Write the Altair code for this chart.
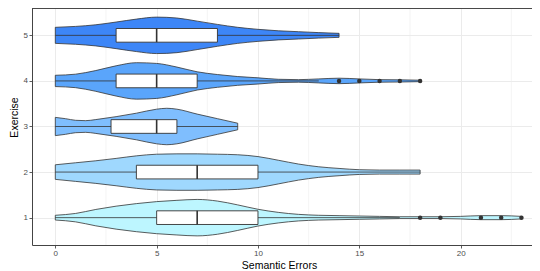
import altair as alt
import pandas as pd

exercises = [1, 2, 3, 4, 5]
fill_colors = ["#bdf6ff", "#9fd8fe", "#7fbefe", "#5aa5fb", "#3d86f7"]

# violin outlines: error values and relative density (max = 1)
v1_x = list(range(0, 24))
v1_d = [0.13, 0.23, 0.45, 0.63, 0.77, 0.88, 0.95, 1.0, 0.91, 0.70, 0.46, 0.29,
        0.18, 0.13, 0.11, 0.09, 0.07, 0.05, 0.05, 0.05, 0.07, 0.11, 0.11, 0.07]
v2_x = list(range(0, 19))
v2_d = [0.40, 0.51, 0.62, 0.75, 0.89, 0.98, 1.0, 1.0, 0.98, 0.95, 0.85, 0.65,
        0.44, 0.29, 0.20, 0.13, 0.11, 0.11, 0.11]
v3_x = [0, 0.5, 1, 1.5, 2, 2.5, 3, 4, 5, 5.5, 6, 7, 8, 9]
v3_d = [0.50, 0.43, 0.34, 0.32, 0.38, 0.46, 0.54, 0.73, 0.95, 1.0, 0.95, 0.68, 0.43, 0.18]
v4_x = list(range(0, 19))
v4_d = [0.31, 0.37, 0.57, 0.83, 1.0, 0.96, 0.76, 0.50, 0.35, 0.24, 0.17, 0.09,
        0.07, 0.11, 0.15, 0.11, 0.07, 0.06, 0.04]
v5_x = list(range(0, 15))
v5_d = [0.44, 0.49, 0.58, 0.73, 0.89, 1.0, 0.95, 0.78, 0.60, 0.44, 0.33, 0.25,
        0.20, 0.15, 0.11]

# boxplot statistics
q1 = [5, 4, 2.75, 3, 3]
med = [7, 7, 5, 5, 5]
q3 = [10, 10, 6, 7, 8]
w_lo = [0, 0, 0, 0, 0]
w_hi = [17, 18, 9, 13, 14]

# outliers
out_ex = [1, 1, 1, 1, 1, 4, 4, 4, 4, 4]
out_val = [18, 19, 21, 22, 23, 14, 15, 16, 17, 18]

x_ticks = [0, 5, 10, 15, 20]
x_minor = [2.5, 7.5, 12.5, 17.5, 22.5]

rows = []
for ex, xs, ds in zip(exercises, [v1_x, v2_x, v3_x, v4_x, v5_x],
                      [v1_d, v2_d, v3_d, v4_d, v5_d]):
    for xv, dv in zip(xs, ds):
        rows.append({"exercise": ex, "x": xv, "d": dv})
violin_df = pd.DataFrame(rows)
box_df = pd.DataFrame({"exercise": exercises, "q1": q1, "med": med, "q3": q3,
                       "lo": w_lo, "hi": w_hi})
out_df = pd.DataFrame({"exercise": out_ex, "val": out_val})
minor_df = pd.DataFrame({"m": x_minor})

W = 500
H = 237

xscale = alt.Scale(domain=[-1.15, 23.52], nice=False, zero=False)
yscale = alt.Scale(domain=[0.4, 5.6], nice=False, zero=False)

x_axis = alt.Axis(values=x_ticks, title="Semantic Errors", titleX=247, titleY=20.5,
                  titleBaseline="middle", titleAlign="center")
y_axis = alt.Axis(values=exercises, format="d", title="Exercise", titleX=-18,
                  titleY=109, titleBaseline="middle", titleAlign="center")

minor = alt.Chart(minor_df).mark_rule(color="#ededed", strokeWidth=0.6).encode(
    x=alt.X("m:Q", scale=xscale, axis=x_axis)
)

top_border = alt.Chart(minor_df).mark_rule(color="#444444", strokeWidth=1).encode(
    y=alt.value(0), x=alt.value(0), x2=alt.value(W)
)

violin = alt.Chart(violin_df).mark_area(
    orient="vertical", interpolate="monotone", stroke="#333333",
    strokeWidth=0.8, opacity=1
).transform_calculate(
    top="datum.exercise + 0.4 * datum.d",
    bot="datum.exercise - 0.4 * datum.d",
).encode(
    x=alt.X("x:Q", scale=xscale, axis=x_axis),
    y=alt.Y("top:Q", scale=yscale, axis=y_axis),
    y2="bot:Q",
    detail="exercise:N",
    color=alt.Color("exercise:N", scale=alt.Scale(domain=exercises, range=fill_colors),
                    legend=None),
)

whisker = alt.Chart(box_df).mark_rule(color="#333333", strokeWidth=0.8).encode(
    x=alt.X("lo:Q", scale=xscale),
    x2="hi:Q",
    y=alt.Y("exercise:Q", scale=yscale),
)

box = alt.Chart(box_df).mark_rect(fill="white", stroke="#333333", strokeWidth=0.9).transform_calculate(
    b0="datum.exercise - 0.15", b1="datum.exercise + 0.15"
).encode(
    x=alt.X("q1:Q", scale=xscale),
    x2="q3:Q",
    y=alt.Y("b0:Q", scale=yscale),
    y2="b1:Q",
)

median = alt.Chart(box_df).mark_rule(color="#333333", strokeWidth=1.6).transform_calculate(
    b0="datum.exercise - 0.15", b1="datum.exercise + 0.15"
).encode(
    x=alt.X("med:Q", scale=xscale),
    y=alt.Y("b0:Q", scale=yscale),
    y2="b1:Q",
)

outliers = alt.Chart(out_df).mark_circle(color="#333333", opacity=1, size=20).encode(
    x=alt.X("val:Q", scale=xscale),
    y=alt.Y("exercise:Q", scale=yscale),
)

chart = alt.layer(minor, violin, whisker, box, median, outliers, top_border).properties(
    width=W, height=H,
    padding={"left": 24, "top": 0, "right": 0, "bottom": 26},
    autosize=alt.AutoSizeParams(type="none"),
).configure_view(
    stroke=None
).configure_axis(
    grid=True, gridColor="#ebebeb", gridWidth=1,
    domain=True, domainColor="#444444", domainWidth=1,
    tickColor="#333333", tickSize=3, tickWidth=0.8,
    labelColor="#4d4d4d", labelFontSize=8, labelFont="Liberation Sans",
    labelPadding=1.5,
    titleFont="Liberation Sans", titleFontSize=10.5, titleFontWeight="normal",
    titleColor="#000000",
)

chart.save("out.html", embed_options={"renderer": "svg", "actions": False})
